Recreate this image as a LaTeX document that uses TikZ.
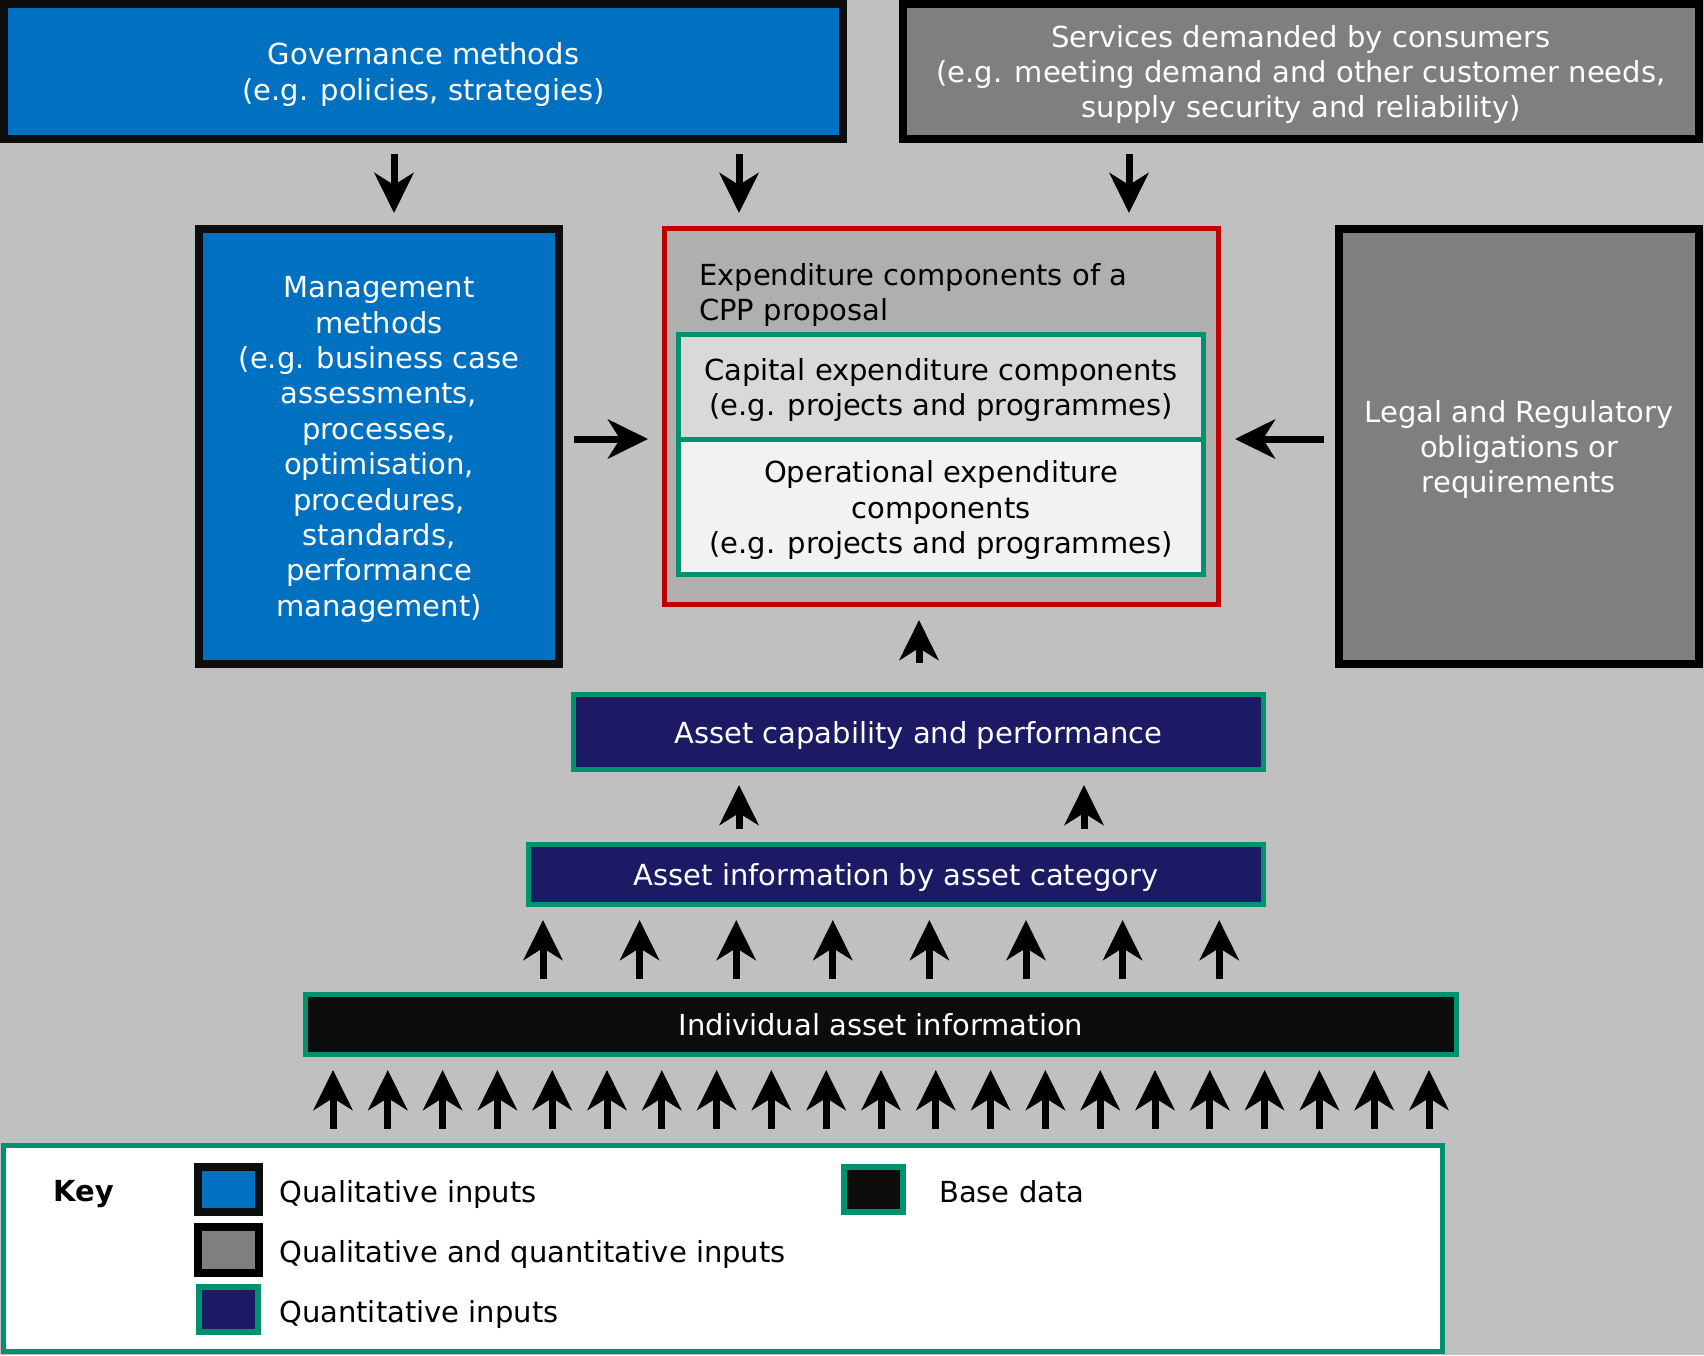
\documentclass[tikz,border=0pt]{standalone}
\usepackage{fontspec}
\setmainfont{DejaVu Sans}
\usepackage{xcolor}
\usetikzlibrary{arrows.meta, positioning, calc}

\definecolor{bgc}{HTML}{C0C0C0}
\definecolor{qualblue}{HTML}{0070C0}
\definecolor{mixgray}{HTML}{7F7F7F}
\definecolor{quantnavy}{HTML}{1C1A64}
\definecolor{basegreen}{HTML}{00916E}
\definecolor{cppred}{HTML}{C00000}
\definecolor{cppfill}{HTML}{AFAFAF}
\definecolor{capexfill}{HTML}{D9D9D9}
\definecolor{opexfill}{HTML}{F2F2F2}
\definecolor{nearblack}{HTML}{0D0D0D}

\tikzset{
  box/.style={rectangle, inner sep=0pt, align=center, text depth=0pt, font=\fontsize{29}{35.4}\selectfont},
  qualbox/.style={box, draw=nearblack, line width=8pt, fill=qualblue, text=white},
  mixbox/.style={box, draw=black, line width=8pt, fill=mixgray, text=white},
  quantbox/.style={box, draw=basegreen, line width=5pt, fill=quantnavy, text=white},
  basebox/.style={box, draw=basegreen, line width=5pt, fill=nearblack, text=white},
  compbox/.style={box, draw=basegreen, line width=5pt},
  arr/.style={line width=7pt, -{Stealth[length=40pt, width=39pt, inset=12pt]}},
  keytext/.style={anchor=west, inner sep=0pt, text depth=0pt, font=\fontsize{29}{35.4}\selectfont},
}

\begin{document}
\begin{tikzpicture}[x=1pt, y=-1pt]
\fill[bgc] (0,0) rectangle (1704,1355);
\useasboundingbox (0,0) rectangle (1704,1355);

% Top row
\node[qualbox, minimum width=839pt, minimum height=135pt] (gov) at (423.5,71.5)
  {Governance methods\\(e.g. policies, strategies)};
\node[mixbox, minimum width=796pt, minimum height=135pt] (svc) at (1301,71.5)
  {Services demanded by consumers\\(e.g. meeting demand and other customer needs,\\supply security and reliability)};

% Middle row
\node[qualbox, minimum width=360pt, minimum height=435pt] (mgmt) at (379,446.5)
  {Management\\methods\\(e.g. business case\\assessments,\\processes,\\optimisation,\\procedures,\\standards,\\performance\\management)};
\node[box, draw=cppred, line width=5pt, fill=cppfill, minimum width=554pt, minimum height=376pt] (cpp) at (941.5,416.5) {};
\node[box, anchor=west, align=left] (cpptitle) at (699,292) {Expenditure components of a\\CPP proposal};
\node[compbox, fill=capexfill, minimum width=525pt, minimum height=105pt] (capex) at (941,387)
  {Capital expenditure components\\(e.g. projects and programmes)};
\node[compbox, fill=opexfill, minimum width=525pt, minimum height=135pt] (opex) at (941,507)
  {Operational expenditure\\components\\(e.g. projects and programmes)};
\node[mixbox, minimum width=360pt, minimum height=435pt] (legal) at (1519,446.5)
  {Legal and Regulatory\\obligations or\\requirements};

% Data stack
\node[quantbox, minimum width=690pt, minimum height=75pt] (capab) at (918.5,732) {Asset capability and performance};
\node[quantbox, minimum width=735pt, minimum height=60pt] (info) at (896,874.5) {Asset information by asset category};
\node[basebox, minimum width=1151pt, minimum height=60pt] (ind) at (881,1024.5) {Individual asset information};

% Key
\node[box, draw=basegreen, line width=5pt, fill=white, minimum width=1439pt, minimum height=206pt] (key) at (723,1248.5) {};
\node[keytext, font=\fontsize{29}{35.4}\selectfont\bfseries] (keylbl) at (53,1191) {Key};
\node[box, draw=nearblack, line width=8pt, fill=qualblue, minimum width=61pt, minimum height=45pt] (swqual) at (228.5,1189.5) {};
\node[box, draw=black, line width=8pt, fill=mixgray, minimum width=61pt, minimum height=46pt] (swmix) at (228.5,1250) {};
\node[box, draw=basegreen, line width=6pt, fill=quantnavy, minimum width=59pt, minimum height=45pt] (swquant) at (228.5,1309.5) {};
\node[box, draw=basegreen, line width=6pt, fill=nearblack, minimum width=59pt, minimum height=45pt] (swbase) at (873.5,1189.5) {};
\node[keytext] (lblqual) at (279,1191) {Qualitative inputs};
\node[keytext] (lblmix) at (279,1251) {Qualitative and quantitative inputs};
\node[keytext] (lblquant) at (279,1311) {Quantitative inputs};
\node[keytext] (lblbase) at (939,1191) {Base data};

% Arrows into the CPP box
\coordinate (dA) at (394,0);
\coordinate (dB) at (739,0);
\coordinate (dC) at (1129,0);
\coordinate (hA) at (0,439);
\coordinate (uA) at (919,0);
\draw[arr, shorten <=11pt, shorten >=12pt] (gov.south -| dA) -- (mgmt.north -| dA);
\draw[arr, shorten <=11pt, shorten >=13pt] (gov.south -| dB) -- (cpp.north -| dB);
\draw[arr, shorten <=11pt, shorten >=13pt] (svc.south -| dC) -- (cpp.north -| dC);
\draw[arr, shorten <=11pt, shorten >=14pt] (mgmt.east |- hA) -- (cpp.west |- hA);
\draw[arr, shorten <=11pt, shorten >=14pt] (legal.west |- hA) -- (cpp.east |- hA);
\draw[arr, shorten <=29pt, shorten >=13pt] (capab.north -| uA) -- (cpp.south -| uA);

% Arrows up the data stack
\coordinate (cA) at (739,0);
\coordinate (cB) at (1084,0);
\draw[arr, shorten <=13pt, shorten >=13pt] (info.north -| cA) -- (capab.south -| cA);
\draw[arr, shorten <=13pt, shorten >=13pt] (info.north -| cB) -- (capab.south -| cB);
\foreach \i in {0,...,7} {
  \coordinate (m\i) at ({543+96.6*\i},0);
  \draw[arr, shorten <=13pt, shorten >=13pt] (ind.north -| m\i) -- (info.south -| m\i);
}
\foreach \i in {0,...,20} {
  \coordinate (b\i) at ({333+54.8*\i},0);
  \draw[arr, shorten <=14pt, shorten >=13pt] (key.north -| b\i) -- (ind.south -| b\i);
}
\end{tikzpicture}
\end{document}
